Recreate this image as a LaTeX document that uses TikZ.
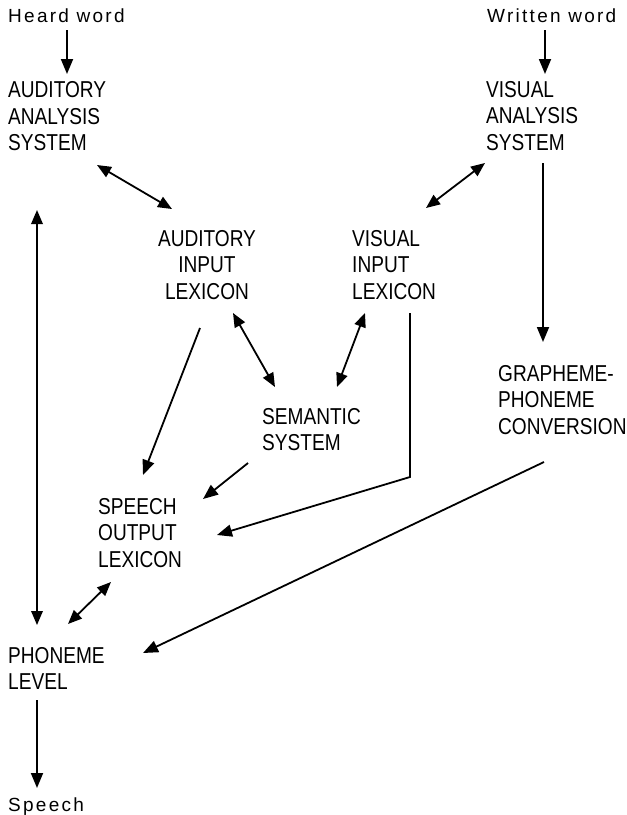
\documentclass[tikz,border=0pt]{standalone}
\usepackage{fontspec}
\setmainfont[FakeStretch=0.83]{Liberation Sans}
\newfontfamily\wordfont[LetterSpace=12]{Liberation Sans}
\usetikzlibrary{arrows.meta}

\begin{document}
\begin{tikzpicture}[x=1pt,y=-1pt,
    box/.style={inner sep=0pt,align=left,font=\fontsize{23}{26.5}\selectfont},
    word/.style={inner sep=0pt,font=\wordfont\fontsize{19}{22}\selectfont},
    arr/.style={line width=1.8pt,-{Triangle[length=15pt,width=12pt]}},
    darr/.style={line width=1.8pt,{Triangle[length=14pt,width=11.5pt]}-{Triangle[length=14pt,width=11.5pt]}}]
  \useasboundingbox (0,0) rectangle (627,815);

  % inputs and outputs
  \node[word,anchor=base west] (heard) at (8,22.7) {Heard word};
  \node[word,anchor=base west] (written) at (487,22.7) {Written word};
  \node[word,anchor=base west] (speech) at (8,811) {Speech};

  % boxes
  \node[box,anchor=north west] (aas) at (8,81.5) {AUDITORY\\ANALYSIS\\SYSTEM};
  \node[box,anchor=north west] (vas) at (486,81) {VISUAL\\ANALYSIS\\SYSTEM};
  \node[box,anchor=north,align=center] (ail) at (207,230) {AUDITORY\\INPUT\\LEXICON};
  \node[box,anchor=north west] (vil) at (352,230) {VISUAL\\INPUT\\LEXICON};
  \node[box,anchor=north west] (gpc) at (498,365) {GRAPHEME-\\PHONEME\\CONVERSION};
  \node[box,anchor=north west] (sem) at (262,408) {SEMANTIC\\SYSTEM};
  \node[box,anchor=north west] (sol) at (98,498) {SPEECH\\OUTPUT\\LEXICON};
  \node[box,anchor=north west] (pl) at (8,647) {PHONEME\\LEVEL};

  % connections
  \draw[arr] ([shift={(59,7.3)}]heard.base west) -- ([shift={(59,-7.5)}]aas.north west);
  \draw[arr] ([shift={(58,7.3)}]written.base west) -- ([shift={(59,-7)}]vas.north west);
  \draw[darr] ([shift={(89,83.5)}]aas.north west) -- ([shift={(-35,-21)}]ail.north);
  \draw[darr] ([shift={(29,128.5)}]aas.north west) -- ([shift={(29,-22)}]pl.north west);
  \draw[darr] ([shift={(-1,82)}]vas.north west) -- ([shift={(74,-22)}]vil.north west);
  \draw[arr] ([shift={(57,82)}]vas.north west) -- ([shift={(45,-23)}]gpc.north west);
  \draw[darr] ([shift={(26,83)}]ail.north) -- ([shift={(13,-21)}]sem.north west);
  \draw[darr] ([shift={(13,83)}]vil.north west) -- ([shift={(75,-21)}]sem.north west);
  \draw[arr] ([shift={(-7,98)}]ail.north) -- ([shift={(45,-23)}]sol.north west);
  \draw[arr] ([shift={(-14,55)}]sem.north west) -- ([shift={(105,1)}]sol.north west);
  \draw[arr] ([shift={(58,83)}]vil.north west) -- ([shift={(58,247)}]vil.north west)
    -- ([shift={(119,37)}]sol.north west);
  \draw[arr] ([shift={(46,97)}]gpc.north west) -- ([shift={(135,6)}]pl.north west);
  \draw[darr] ([shift={(13,84)}]sol.north west) -- ([shift={(60,-23)}]pl.north west);
  \draw[arr] ([shift={(29,53)}]pl.north west) -- ([shift={(29,-23)}]speech.base west);
\end{tikzpicture}
\end{document}
